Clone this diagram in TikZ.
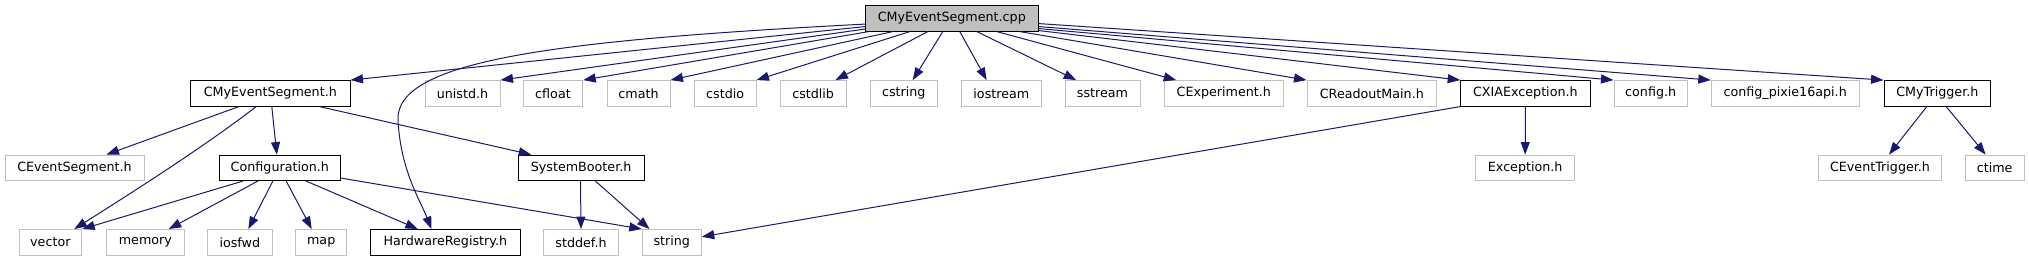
\documentclass[tikz,border=0pt]{standalone}
\usepackage{fontspec}
\setmainfont{DejaVu Sans}
\usetikzlibrary{arrows.meta}
\definecolor{edgecol}{HTML}{191970}
\definecolor{greyseventyfive}{HTML}{BFBFBF}
\newcommand{\dxnode}[6]{\node[#1, minimum width={#4-#3}] (#2) at ({(#3+#4)/2}, #5) {#6};}
\tikzset{
  nodebox/.style={draw, minimum height=25.5pt, inner sep=0pt, anchor=center, line width=1pt, font=\fontsize{12.7}{14}\selectfont, text=black},
  gbox/.style={nodebox, draw=greyseventyfive},
  bbox/.style={nodebox, draw=black},
  rootbox/.style={nodebox, draw=black, fill=greyseventyfive},
  edge/.style={draw=edgecol, line width=1pt, -{Triangle[length=12.5pt,width=9pt]}, edgecol}
}
\begin{document}
\begin{tikzpicture}[x=1pt,y=-1pt]
\useasboundingbox[fill=white] (0,0) rectangle (2029,261);
% row 1
\dxnode{rootbox}{cpp}{865.3}{1038.3}{18.35}{CMyEventSegment.cpp}
% row 2
\dxnode{bbox}{cmeh}{190.7}{350}{93.35}{CMyEventSegment.h}
\dxnode{gbox}{unistd}{425}{500}{93.35}{unistd.h}
\dxnode{gbox}{cfloat}{523.3}{582.7}{93.35}{cfloat}
\dxnode{gbox}{cmath}{607}{670}{93.35}{cmath}
\dxnode{gbox}{cstdio}{694.3}{756}{93.35}{cstdio}
\dxnode{gbox}{cstdlib}{780.3}{846}{93.35}{cstdlib}
\dxnode{gbox}{cstring}{870.3}{937.3}{93.35}{cstring}
\dxnode{gbox}{iostream}{961}{1041.7}{93.35}{iostream}
\dxnode{gbox}{sstream}{1065}{1140}{93.35}{sstream}
\dxnode{gbox}{cexp}{1164.3}{1283.3}{93.35}{CExperiment.h}
\dxnode{gbox}{creadout}{1307}{1436.7}{93.35}{CReadoutMain.h}
\dxnode{bbox}{cxia}{1460.7}{1590}{93.35}{CXIAException.h}
\dxnode{gbox}{configh}{1614}{1687.3}{93.35}{config.h}
\dxnode{gbox}{pixie}{1711.3}{1859}{93.35}{config\_pixie16api.h}
\dxnode{bbox}{cmytrig}{1884}{1990.7}{93.35}{CMyTrigger.h}
% row 3
\dxnode{gbox}{cevseg}{5}{144}{167.85}{CEventSegment.h}
\dxnode{bbox}{confh}{219}{340.7}{167.85}{Configuration.h}
\dxnode{bbox}{sysboot}{518.3}{644}{167.85}{SystemBooter.h}
\dxnode{gbox}{exc}{1475.7}{1574.7}{167.85}{Exception.h}
\dxnode{gbox}{cevtrig}{1818.3}{1941.7}{167.85}{CEventTrigger.h}
\dxnode{gbox}{ctime}{1965.3}{2024}{167.85}{ctime}
% row 4
\dxnode{gbox}{vector}{19}{81.7}{242.3}{vector}
\dxnode{gbox}{memory}{106.7}{184}{242.3}{memory}
\dxnode{gbox}{iosfwd}{207.7}{272}{242.3}{iosfwd}
\dxnode{gbox}{map}{295.7}{346.7}{242.3}{map}
\dxnode{bbox}{hwreg}{370.7}{520}{242.3}{HardwareRegistry.h}
\dxnode{gbox}{stddef}{543.3}{618.7}{242.3}{stddef.h}
\dxnode{gbox}{string}{642.3}{701.3}{242.3}{string}
% edges from cpp
\draw[edge] ([yshift=7.5]cpp.south west) .. controls (560,40) and (395,60) .. (398,120) .. controls (400.5,170) and (420,200) .. ([xshift=61.3]hwreg.north west);
\draw[edge] ([yshift=5]cpp.south west) -- (cmeh.north east);
\draw[edge] ([yshift=2.5]cpp.south west) -- (unistd.north east);
\draw[edge] ([xshift=4]cpp.south west) -- (cfloat.north east);
\draw[edge] ([xshift=28]cpp.south west) -- (cmath.north east);
\draw[edge] ([xshift=45]cpp.south west) -- (cstdio.north east);
\draw[edge] ([xshift=63]cpp.south west) -- ([xshift=-11]cstdlib.north east);
\draw[edge] ([xshift=78]cpp.south west) -- ([xshift=9]cstring.north);
\draw[edge] ([xshift=95]cpp.south west) -- ([xshift=-14.7]iostream.north);
\draw[edge] ([xshift=112]cpp.south west) -- ([xshift=11.7]sstream.north west);
\draw[edge] ([xshift=132]cpp.south west) -- ([xshift=12.4]cexp.north west);
\draw[edge] ([xshift=155]cpp.south west) -- (creadout.north west);
\draw[edge] ([yshift=1]cpp.south east) -- (cxia.north west);
\draw[edge] ([yshift=3]cpp.south east) -- (configh.north west);
\draw[edge] ([yshift=5]cpp.south east) -- (pixie.north west);
\draw[edge] ([yshift=8]cpp.south east) -- (cmytrig.north west);
% edges from CMyEventSegment.h
\draw[edge] ([xshift=48.6]cmeh.south west) -- ([xshift=-38]cevseg.north east);
\draw[edge] ([xshift=66]cmeh.south west) .. controls (200,150) and (120,200) .. ([xshift=24]vector.north);
\draw[edge] ([xshift=81.6]cmeh.south west) -- ([xshift=-3]confh.north);
\draw[edge] ([xshift=129.3]cmeh.south west) -- ([xshift=13.4]sysboot.north west);
% edges from Configuration.h
\draw[edge] ([xshift=24.3]confh.south west) -- (vector.north east);
\draw[edge] ([xshift=39.3]confh.south west) -- ([xshift=-15.7]memory.north east);
\draw[edge] ([xshift=54.3]confh.south west) -- ([xshift=8.5]iosfwd.north);
\draw[edge] ([xshift=67.7]confh.south west) -- ([xshift=-9.5]map.north);
\draw[edge] ([xshift=87.7]confh.south west) -- ([xshift=47.6]hwreg.north west);
\draw[edge] ([yshift=3]confh.south east) -- (string.north west);
% edges from SystemBooter.h
\draw[edge] ([xshift=62.7]sysboot.south west) -- (stddef.north);
\draw[edge] ([xshift=77.7]sysboot.south west) -- ([xshift=7.7]string.north west);
% edges from CXIAException.h
\draw[edge] (cxia.south west) -- ([yshift=5.5]string.east);
\draw[edge] (cxia.south) -- (exc.north);
% edges from CMyTrigger.h
\draw[edge] ([xshift=43.3]cmytrig.south west) -- ([xshift=9]cevtrig.north);
\draw[edge] ([xshift=62.7]cmytrig.south west) -- ([xshift=-9]ctime.north);
\end{tikzpicture}
\end{document}
